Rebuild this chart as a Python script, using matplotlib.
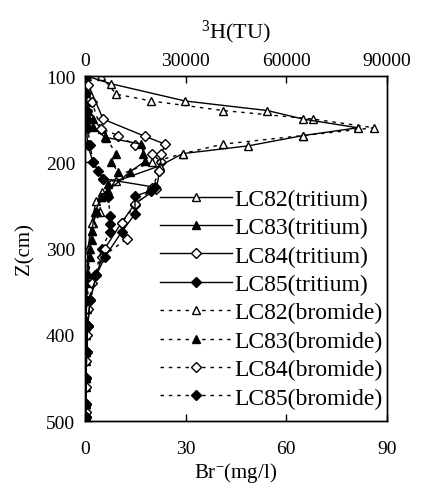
import matplotlib
matplotlib.use('Agg')
import matplotlib.pyplot as plt

plt.rcParams['font.family'] = ['Liberation Serif', 'DejaVu Serif']
plt.rcParams['mathtext.fontset'] = 'custom'
plt.rcParams['mathtext.rm'] = 'Liberation Serif'
plt.rcParams['mathtext.it'] = 'Liberation Serif:italic'

# tritium profiles (TU) - top axis
lc82_t_depth = [100, 109, 129, 140, 150, 160, 169, 181, 190, 204, 222, 245, 270, 300, 330, 360, 390, 420, 450, 480, 495]
lc82_t = [500, 7800, 29900, 54300, 65100, 81300, 65100, 48600, 29100, 22400, 9300, 3300, 2000, 900, 600, 400, 300, 300, 200, 200, 200]

lc83_t_depth = [100, 120, 140, 159, 171, 179, 190, 199, 211, 233, 240, 258, 280, 300, 330, 360, 390, 420, 450, 480, 495]
lc83_t = [0, 300, 1000, 2400, 5900, 16800, 17400, 17900, 13400, 6900, 4800, 3000, 2000, 1500, 800, 500, 300, 300, 200, 200, 200]

lc84_t_depth = [100, 110, 150, 170, 179, 190, 210, 231, 248, 270, 300, 331, 360, 390, 420, 450, 480, 495]
lc84_t = [300, 1000, 5400, 17900, 23900, 22800, 22200, 21300, 14900, 10900, 5900, 3400, 1500, 800, 500, 300, 200, 200]

lc85_t_depth = [100, 120, 150, 180, 200, 219, 229, 233, 239, 260, 281, 310, 331, 360, 390, 420, 450, 480, 495]
lc85_t = [0, 0, 300, 800, 2400, 5400, 20900, 19800, 14900, 14900, 10900, 5900, 3400, 1500, 800, 500, 300, 200, 200]

# bromide profiles (mg/l) - bottom axis
lc82_b_depth = [100, 121, 129, 140, 150, 160, 169, 179, 190, 200, 215, 235, 258, 280, 300, 330, 360, 390, 420, 450, 480, 495]
lc82_b = [4.8, 9.3, 19.8, 41.1, 68.1, 86.1, 65.1, 41.1, 29.1, 20, 10, 5, 4.4, 2, 1, 0.6, 0.4, 0.3, 0.3, 0.2, 0.2, 0.2]

lc83_b_depth = [100, 130, 150, 162, 172, 190, 200, 211, 225, 240, 258, 270, 290, 310, 340, 370, 400, 430, 460, 490]
lc83_b = [0.3, 1.5, 2.4, 5, 6.3, 9.3, 7.8, 9.9, 7, 4.8, 3.5, 2.5, 2, 1.5, 1, 0.6, 0.4, 0.3, 0.2, 0.2]

lc84_b_depth = [100, 130, 161, 169, 180, 190, 200, 210, 230, 250, 270, 289, 310, 340, 370, 400, 430, 460, 490]
lc84_b = [0.3, 2, 4.8, 9.9, 15, 20, 22.8, 22.2, 20, 14.9, 10.9, 12.4, 5, 2, 1, 0.6, 0.4, 0.3, 0.2]

lc85_b_depth = [100, 120, 140, 160, 180, 200, 210, 219, 240, 262, 272, 281, 300, 331, 360, 390, 420, 450, 480, 495]
lc85_b = [0.3, 0.3, 0.5, 0.8, 1.5, 2.4, 3.9, 5.4, 7, 7.4, 7.4, 7.4, 5, 3, 1.5, 0.8, 0.5, 0.3, 0.2, 0.2]

fig = plt.figure(figsize=(4.22, 4.89), dpi=100)
ax = fig.add_axes([0.2014, 0.137, 0.7156, 0.7055])
ax2 = ax.twiny()

dash = (0, (2.5, 3.5))
tri = dict(color='black', lw=1.0, markersize=6, markeredgewidth=1.0)
dia = dict(color='black', lw=1.0, markersize=5, markeredgewidth=1.0)

# bromide on bottom axis, dotted
hb = []
hb += ax.plot(lc82_b, lc82_b_depth, linestyle=dash, marker='^', markerfacecolor='white', label='LC82(bromide)', **tri)
hb += ax.plot(lc83_b, lc83_b_depth, linestyle=dash, marker='^', markerfacecolor='black', label='LC83(bromide)', **tri)
hb += ax.plot(lc84_b, lc84_b_depth, linestyle=dash, marker='D', markerfacecolor='white', label='LC84(bromide)', **dia)
hb += ax.plot(lc85_b, lc85_b_depth, linestyle=dash, marker='D', markerfacecolor='black', label='LC85(bromide)', **dia)

# tritium on top axis, solid
ht = []
ht += ax2.plot(lc82_t, lc82_t_depth, linestyle='-', marker='^', markerfacecolor='white', label='LC82(tritium)', **tri)
ht += ax2.plot(lc83_t, lc83_t_depth, linestyle='-', marker='^', markerfacecolor='black', label='LC83(tritium)', **tri)
ht += ax2.plot(lc84_t, lc84_t_depth, linestyle='-', marker='D', markerfacecolor='white', label='LC84(tritium)', **dia)
ht += ax2.plot(lc85_t, lc85_t_depth, linestyle='-', marker='D', markerfacecolor='black', label='LC85(tritium)', **dia)

ax.set_xlim(0, 90)
ax2.set_xlim(0, 90000)
ax.set_ylim(500, 100)
ax.set_xticks([0, 30, 60, 90])
ax2.set_xticks([0, 30000, 60000, 90000])
ax.set_yticks([100, 200, 300, 400, 500])

for a in (ax, ax2):
    a.tick_params(direction='in', labelsize=14, length=5, width=1)
    for s in a.spines.values():
        s.set_linewidth(1.0)
ax.tick_params(axis='x', pad=14)
ax.tick_params(axis='y', pad=7)
ax2.tick_params(axis='x', pad=5)

ax.set_xlabel(r'Br$^{-}$(mg/l)', fontsize=15, labelpad=2)
ax2.set_xlabel(r'$^{3}$H(TU)', fontsize=16, labelpad=11)
ax.set_ylabel('Z(cm)', fontsize=15, labelpad=8)

ax2.legend(handles=ht + hb, loc='center left', bbox_to_anchor=(0.248, 0.355),
           frameon=False, fontsize=17, handlelength=3.05, handletextpad=0.12,
           labelspacing=0.29, borderpad=0, borderaxespad=0)

fig.savefig('out.png', dpi=100)
